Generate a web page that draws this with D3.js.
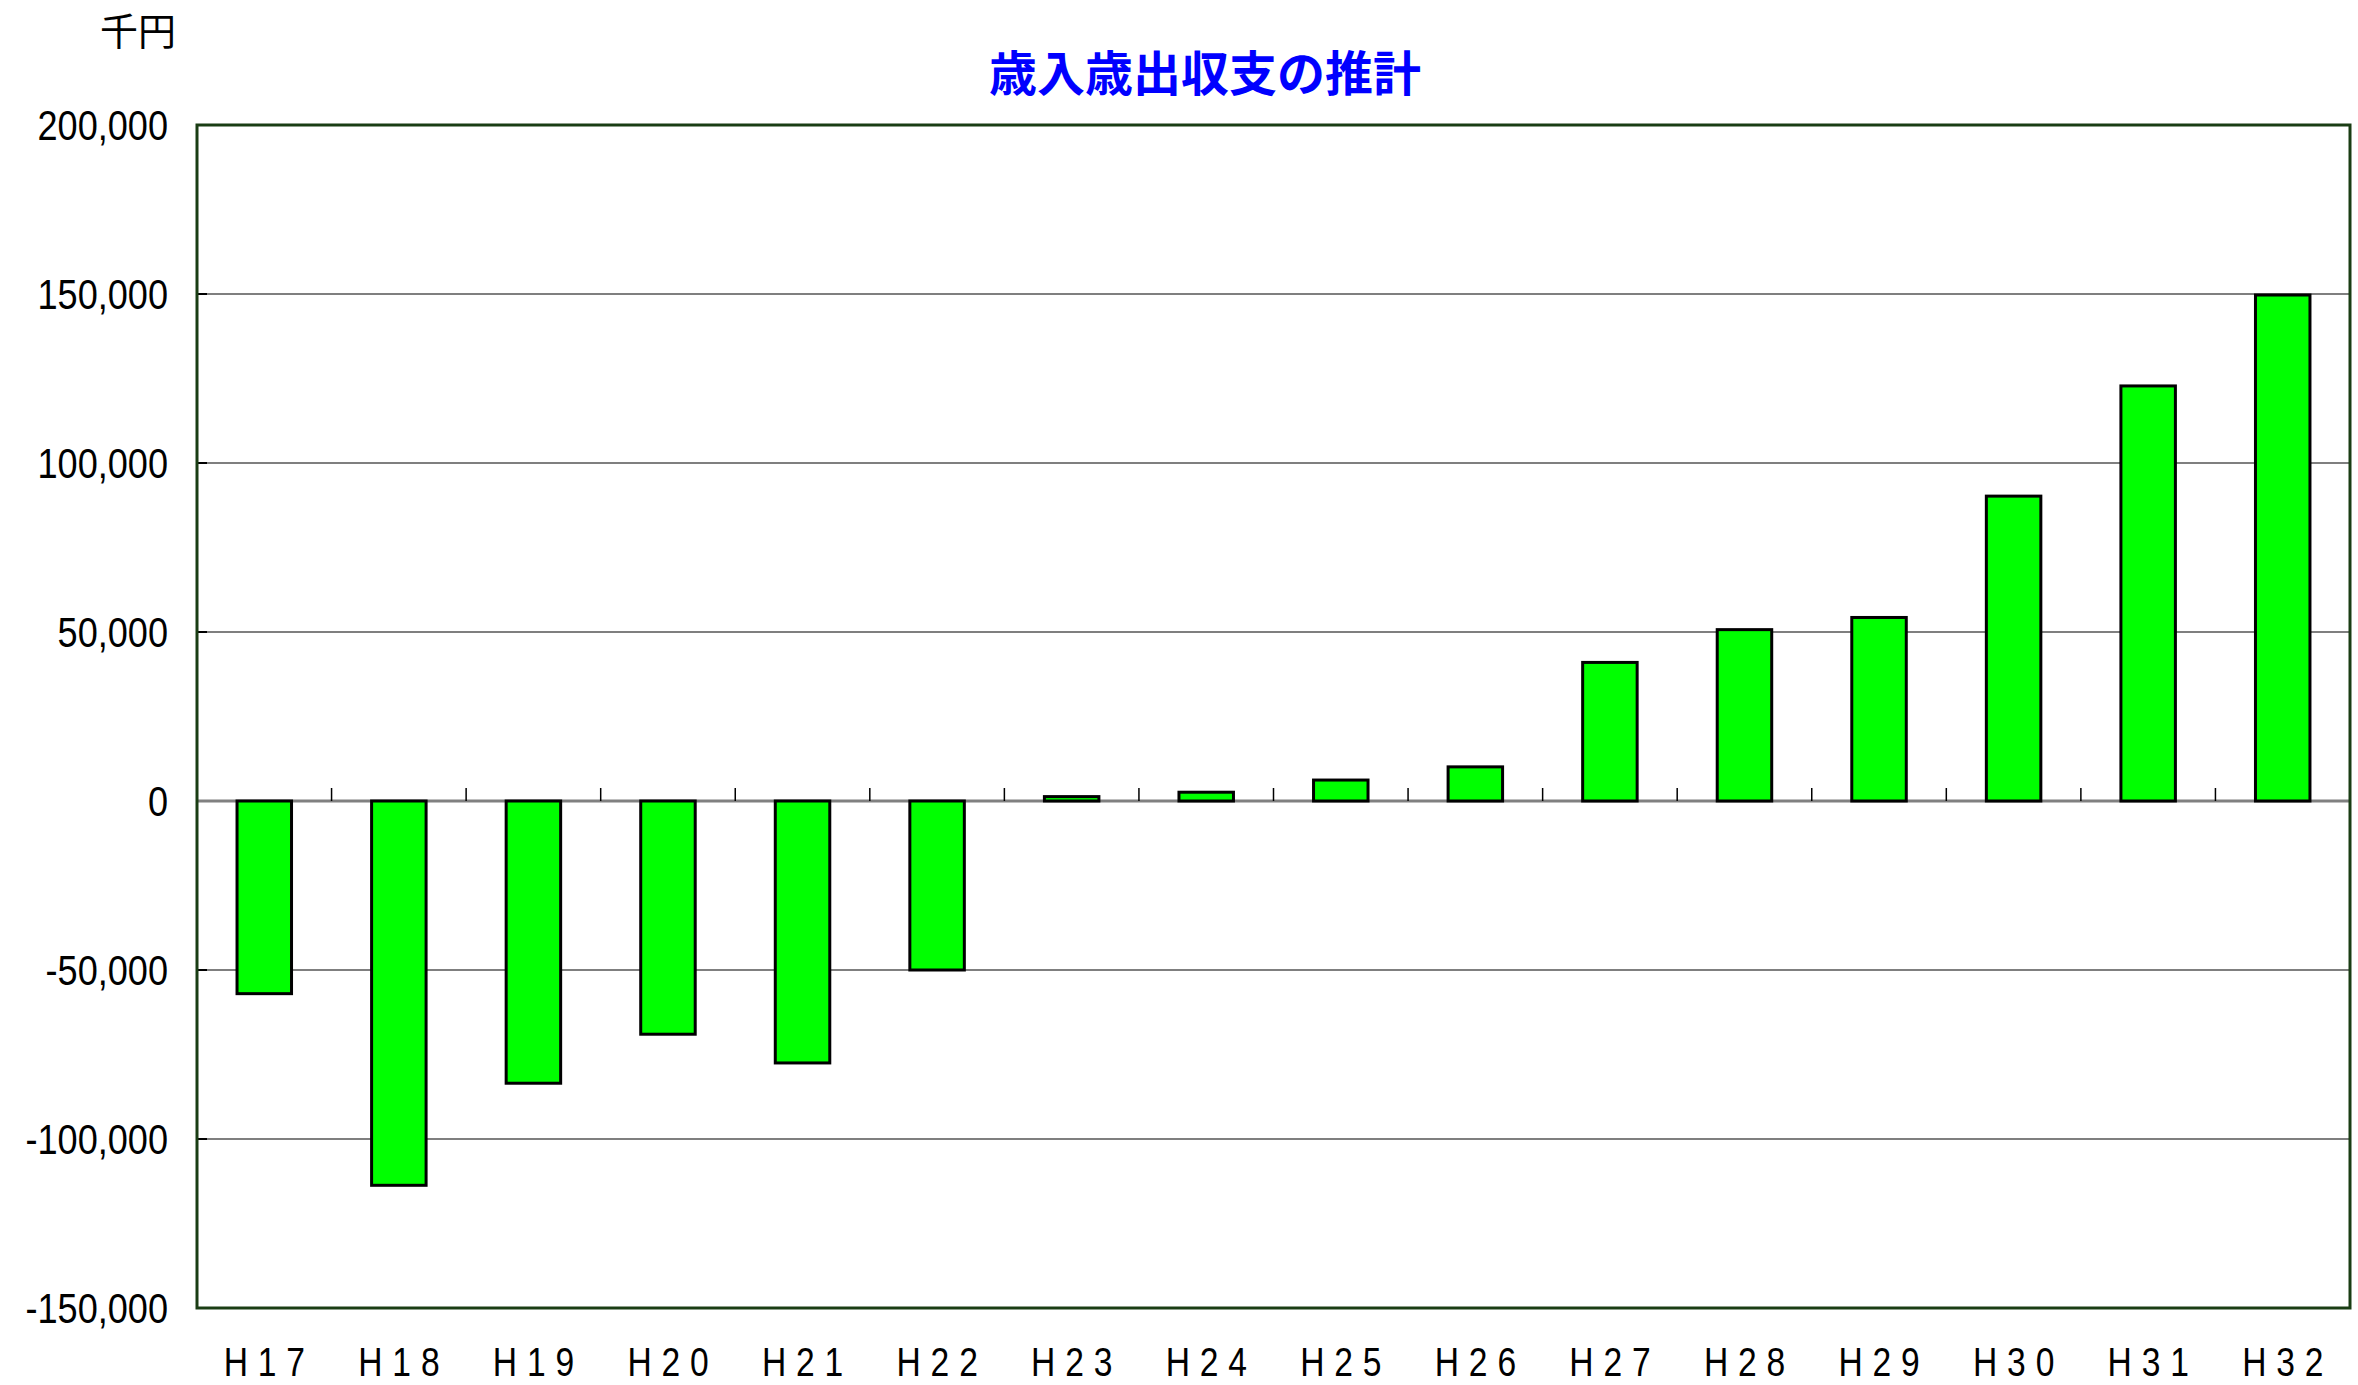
<!DOCTYPE html>
<html lang="ja">
<head>
    <meta charset="UTF-8">
    <title>歳入歳出収支の推計</title>
    <script src="https://cdnjs.cloudflare.com/ajax/libs/d3/7.8.5/d3.min.js"></script>
    <style>
        body { margin: 0; background: #fff; }
        .narrow { font-family: "Liberation Sans", Arial, sans-serif; }
    </style>
</head>
<body>
    <div id="vis"></div>

    <script>

        // data (千円)
        var years = ["H17", "H18", "H19", "H20", "H21", "H22", "H23", "H24",
                     "H25", "H26", "H27", "H28", "H29", "H30", "H31", "H32"];
        var balance = [-57000, -113700, -83500, -69000, -77500, -50000, 1300, 2600,
                       6200, 10100, 41000, 50700, 54300, 90200, 122800, 149700];
        var yTicks = [-150000, -100000, -50000, 0, 50000, 100000, 150000, 200000];

        var width = 2358;
        var height = 1385;

        var margin = {
          top: 125,
          left: 197,
          right: 8,
          bottom: 77
        };

        // no narrow font installed, so squeeze Liberation Sans instead
        var squeeze = 0.86;

        var svg = d3.select("#vis")
            .append("svg")
              .attr('width', width)
              .attr('height', height)
            .append("g")
              .attr('transform', 'translate(' + margin.left + ',' + margin.top + ')');

        var w = width - margin.left - margin.right;
        var h = height - margin.top - margin.bottom;

        var x_scale = d3.scaleBand()
            .domain(years)
            .range([0, w])
            .paddingInner(0.595)
            .paddingOuter(0.2975);

        var y_scale = d3.scaleLinear()
            .domain([-150000, 200000])
            .range([h, 0]);

        var fmt = d3.format(',');

        // gridlines
        svg.selectAll('.grid')
            .data(yTicks.filter(function(d) { return d !== 0; }))
            .enter()
            .append('line')
              .attr('class', 'grid')
              .attr('x1', 0)
              .attr('x2', w)
              .attr('y1', function(d) { return y_scale(d); })
              .attr('y2', function(d) { return y_scale(d); })
              .attr('stroke', '#555')
              .attr('stroke-width', 1.5);

        // small inside ticks on the value axis
        svg.selectAll('.ytick')
            .data(yTicks)
            .enter()
            .append('line')
              .attr('class', 'ytick')
              .attr('x1', 0)
              .attr('x2', 10)
              .attr('y1', function(d) { return y_scale(d); })
              .attr('y2', function(d) { return y_scale(d); })
              .attr('stroke', '#000')
              .attr('stroke-width', 2);

        // value labels
        svg.selectAll('.ylabel')
            .data(yTicks)
            .enter()
            .append('text')
              .attr('class', 'ylabel narrow')
              .attr('transform', function(d) {
                  return 'translate(-29,' + y_scale(d) + ') scale(' + squeeze + ',1)';
              })
              .attr('dy', '0.36em')
              .attr('text-anchor', 'end')
              .style('font-size', '42px')
              .text(function(d) { return fmt(d).replace('−', '-'); });

        // zero line with category ticks pointing up
        var step = x_scale.step();
        var zero = y_scale(0);

        svg.append('line')
            .attr('x1', 0)
            .attr('x2', w)
            .attr('y1', zero)
            .attr('y2', zero)
            .attr('stroke', '#808080')
            .attr('stroke-width', 3);

        svg.selectAll('.cat-tick')
            .data(years.slice(1))
            .enter()
            .append('line')
              .attr('class', 'cat-tick')
              .attr('x1', function(d) { return x_scale(d) - x_scale.paddingOuter() * step; })
              .attr('x2', function(d) { return x_scale(d) - x_scale.paddingOuter() * step; })
              .attr('y1', zero)
              .attr('y2', zero - 13)
              .attr('stroke', '#000')
              .attr('stroke-width', 1.5);

        // bars
        svg.selectAll('.bar')
            .data(balance)
            .enter()
            .append('rect')
              .attr('class', 'bar')
              .attr('x', function(d, i) { return x_scale(years[i]); })
              .attr('width', x_scale.bandwidth())
              .attr('y', function(d) { return y_scale(Math.max(0, d)); })
              .attr('height', function(d) { return Math.abs(y_scale(d) - y_scale(0)); })
              .attr('fill', '#00ff00')
              .attr('stroke', '#000')
              .attr('stroke-width', 3);

        // plot frame
        svg.append('rect')
            .attr('x', 0)
            .attr('y', 0)
            .attr('width', w)
            .attr('height', h)
            .attr('fill', 'none')
            .attr('stroke', '#1a3d14')
            .attr('stroke-width', 3);

        // x labels
        svg.selectAll('.xlabel')
            .data(years)
            .enter()
            .append('text')
              .attr('class', 'xlabel narrow')
              .attr('transform', function(d) {
                  var cx = x_scale(d) + x_scale.bandwidth() / 2 + 5;
                  return 'translate(' + cx + ',' + (h + 68) + ') scale(0.82,1)';
              })
              .attr('text-anchor', 'middle')
              .style('font-size', '41px')
              .style('letter-spacing', '12px')
              .text(function(d) { return d; });

        // title and unit
        d3.select('svg').append('text')
            .attr('x', 1205)
            .attr('y', 91)
            .attr('text-anchor', 'middle')
            .attr('fill', '#0000ff')
            .style('font-family', '"Noto Sans CJK JP", sans-serif')
            .style('font-weight', 'bold')
            .style('font-size', '48px')
            .text('歳入歳出収支の推計');

        d3.select('svg').append('text')
            .attr('x', 138)
            .attr('y', 45)
            .attr('text-anchor', 'middle')
            .attr('fill', '#000')
            .style('font-family', '"Noto Sans CJK JP", sans-serif')
            .style('font-size', '38px')
            .text('千円');

    </script>
</body>
</html>
